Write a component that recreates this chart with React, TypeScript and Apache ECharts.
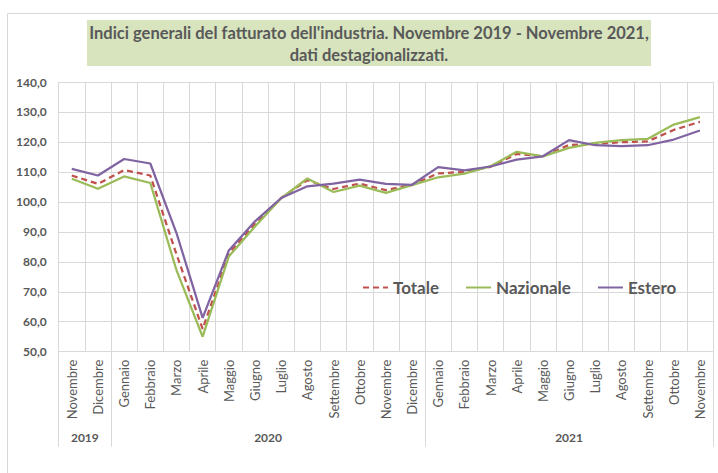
import React, { useEffect, useRef } from "react";
import * as echarts from "echarts";

const months = [
  "Novembre", "Dicembre",
  "Gennaio", "Febbraio", "Marzo", "Aprile", "Maggio", "Giugno", "Luglio", "Agosto", "Settembre", "Ottobre", "Novembre", "Dicembre",
  "Gennaio", "Febbraio", "Marzo", "Aprile", "Maggio", "Giugno", "Luglio", "Agosto", "Settembre", "Ottobre", "Novembre",
];
const years = ["2019", "2020", "2021"];
const yearBoundaries = [0, 2, 14, 25];
const yearCenters = [1, 8, 19.5];

const totale = [108.8, 106.0, 110.6, 108.8, 82.5, 57.6, 82.7, 92.7, 101.3, 107.2, 104.3, 106.1, 103.9, 105.7, 109.5, 110.0, 111.7, 116.0, 115.2, 119.0, 119.4, 119.9, 120.2, 124.0, 126.7];
const nazionale = [107.7, 104.4, 108.5, 106.3, 77.2, 55.0, 81.8, 91.8, 101.2, 107.8, 103.3, 105.4, 103.0, 105.6, 108.2, 109.4, 111.9, 116.7, 115.2, 118.0, 119.7, 120.6, 121.0, 125.8, 128.3];
const estero = [111.0, 108.8, 114.3, 112.8, 89.6, 61.3, 83.8, 93.5, 101.3, 105.2, 106.1, 107.4, 106.0, 105.7, 111.6, 110.5, 111.8, 114.1, 115.2, 120.6, 118.9, 118.6, 118.9, 120.8, 123.8];

const titleLines = ["Indici generali del fatturato dell'industria. Novembre 2019 - Novembre 2021,", "dati destagionalizzati."];

const FONT = "Lato";
const TXT = "#595959";
const GRID = "#d9d9d9";

export default function App() {
  const ref = useRef<HTMLDivElement>(null);
  useEffect(() => {
    document.body.style.margin = "0";
    const chart = echarts.init(ref.current!, null, { renderer: "svg" });
    chart.setOption({
      animation: false,
      backgroundColor: "#ffffff",
      graphic: [
        { type: "rect", z: -10, shape: { x: 7.5, y: 13.5, width: 800, height: 500 }, style: { fill: "none", stroke: GRID, lineWidth: 1 } },
        { type: "rect", shape: { x: 87, y: 20, width: 564, height: 46 }, style: { fill: "#d7e4bd" } },
        { type: "text", x: 369, y: 33, style: { text: titleLines[0], fontFamily: FONT, fontWeight: "bold", fontSize: 16.5, fill: TXT, textAlign: "center", textVerticalAlign: "middle" } },
        { type: "text", x: 369, y: 55, style: { text: titleLines[1], fontFamily: FONT, fontWeight: "bold", fontSize: 16.5, fill: TXT, textAlign: "center", textVerticalAlign: "middle" } },
      ],
      legend: {
        left: 357,
        top: 274,
        itemWidth: 25,
        itemHeight: 14,
        itemGap: 26,
        itemStyle: { opacity: 0 },
        textStyle: { fontFamily: FONT, fontWeight: "bold", fontSize: 17, color: TXT },
        data: ["Totale", "Nazionale", "Estero"],
      },
      grid: { left: 58.7, right: 5, top: 82, bottom: 121.3, containLabel: false },
      xAxis: [
        {
          type: "category",
          data: months,
          boundaryGap: true,
          axisLine: { show: true, lineStyle: { color: GRID, width: 1 } },
          axisTick: { show: false },
          splitLine: { show: true, interval: 0, lineStyle: { color: GRID, width: 1 } },
          axisLabel: { interval: 0, rotate: 90, margin: 8, fontFamily: FONT, fontSize: 13, color: TXT },
        },
        {
          type: "value",
          min: 0,
          max: 25,
          position: "bottom",
          axisLine: { show: false },
          splitLine: { show: false },
          axisTick: { show: true, customValues: yearBoundaries, length: 95, lineStyle: { color: GRID, width: 1 } },
          axisLabel: {
            customValues: yearCenters,
            margin: 80,
            fontFamily: FONT,
            fontWeight: "bold",
            fontSize: 12,
            color: TXT,
            formatter: (v: number) => {
              const i = yearCenters.indexOf(v);
              return i >= 0 ? years[i] : "";
            },
          },
        },
      ],
      yAxis: {
        type: "value",
        min: 50,
        max: 140,
        interval: 10,
        axisLine: { show: false },
        axisTick: { show: false },
        splitLine: { show: true, lineStyle: { color: GRID, width: 1 } },
        axisLabel: {
          margin: 12,
          fontFamily: FONT,
          fontWeight: "bold",
          fontSize: 12,
          color: TXT,
          formatter: (v: number) => v.toFixed(1).replace(".", ","),
        },
      },
      series: [
        { name: "Totale", type: "line", data: totale, symbol: "none", color: "#c0504d", lineStyle: { width: 2.25, type: [6, 4], color: "#c0504d" } },
        { name: "Nazionale", type: "line", data: nazionale, symbol: "none", color: "#9bbb59", lineStyle: { width: 2.25, color: "#9bbb59" } },
        { name: "Estero", type: "line", data: estero, symbol: "none", color: "#8064a2", lineStyle: { width: 2.25, color: "#8064a2" } },
      ],
    });
    return () => chart.dispose();
  }, []);
  return <div ref={ref} style={{ width: 718, height: 473 }} />;
}
